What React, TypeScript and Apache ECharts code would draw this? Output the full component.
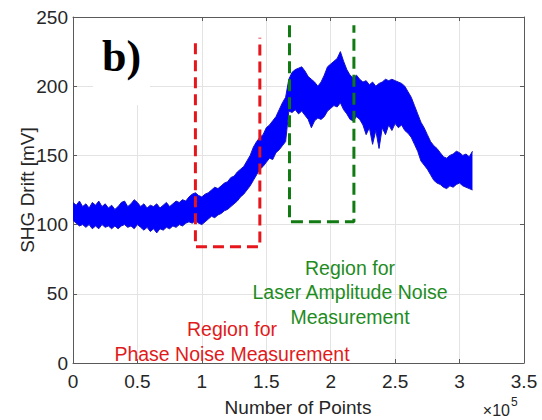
import React, { useEffect, useRef } from 'react';
import * as echarts from 'echarts';

// sampling step along x (units of 1e5 points)
const STEP = 0.025;
const X_MAX = 3.5;
// upper and lower envelope of the SHG drift band [mV]
const upper = [
  116, 114, 117, 113, 115, 112, 116, 114, 117, 113,
  115, 112, 114, 111, 113, 116, 117, 113, 115, 118,
  116, 113, 115, 112, 114, 113, 115, 112, 114, 116,
  113, 115, 117, 116, 118, 117, 120, 122, 123, 121,
  120, 122, 123, 125, 127, 126, 128, 130, 131, 134,
  135, 138, 140, 142, 146, 150, 156, 160, 163, 165,
  170, 172, 175, 178, 183, 188, 192, 205, 210, 212,
  213, 214, 211, 207, 205, 203, 200, 203, 208, 214,
  216, 218, 220, 225, 218, 212, 208, 206, 208, 205,
  203, 204, 201, 203, 200, 202, 203, 205, 204, 205,
  204, 203, 202, 200, 196, 192, 186, 180, 174, 170,
  165, 160, 157, 155, 152, 149, 148, 150, 151, 153,
  152, 150, 151, 149, 153,
];
const lower = [
  103, 101, 99, 100, 98, 100, 97, 99, 97, 100,
  98, 99, 97, 99, 97, 99, 100, 98, 99, 97,
  100, 98, 96, 98, 95, 97, 94, 97, 96, 98,
  97, 99, 98, 100, 99, 101, 102, 101, 103, 101,
  100, 102, 104, 106, 105, 107, 108, 110, 111, 113,
  115, 117, 120, 122, 125, 128, 132, 136, 140, 142,
  145, 148, 147, 152, 154, 157, 160, 182, 181, 183,
  180, 182, 179, 176, 170, 175, 177, 176, 178, 182,
  184, 186, 185, 188, 183, 180, 176, 175, 178, 176,
  172, 165, 170, 158, 168, 155, 170, 165, 172, 168,
  173, 170, 172, 168, 166, 163, 158, 153, 146, 143,
  140, 136, 132, 130, 129, 127, 126, 128, 127, 129,
  130, 128, 127, 126, 125,
];

// dashed measurement-region outlines
const phaseBoxX = [0.95, 0.95, 1.45, 1.45];
const phaseBoxY = [231, 84, 84, 235];
const ampBoxX = [1.68, 1.68, 2.18, 2.18];
const ampBoxY = [244, 102, 102, 244];

const greenLabel = ['Region for', 'Laser Amplitude Noise', 'Measurement'];
const redLabel = ['Region for', 'Phase Noise Measurement'];
const panelLabel = 'b)';
const xTitle = 'Number of Points';
const yTitle = 'SHG Drift [mV]';

const FONT = "'Liberation Sans', Arial, Helvetica, sans-serif";
const AXIS = '#5a5a5a';
const TXT = '#262626';
const GRID = '#e3e3e3';
const BLUE = '#0000ff';

export default function App() {
  const ref = useRef<HTMLDivElement>(null);
  useEffect(() => {
    if (!ref.current) return;
    const chart = echarts.init(ref.current, null, { renderer: 'svg' });
    // hidden category axis spanning 0..X_MAX at STEP so the band can be stacked
    const nCat = Math.round(X_MAX / STEP) + 1;
    const cats = Array.from({ length: nCat }, (_, i) => String(i));
    const bandDiff = upper.map((v, i) => v - lower[i]);
    const phaseData = phaseBoxX.map((x, i) => [x, phaseBoxY[i]]);
    const ampData = ampBoxX.map((x, i) => [x, ampBoxY[i]]);

    const lineCommon = { show: true, onZero: false, lineStyle: { color: AXIS, width: 1 } };
    const tickCommon = { show: true, inside: true, length: 4, lineStyle: { color: AXIS } };

    chart.setOption({
      animation: false,
      backgroundColor: '#fff',
      grid: { left: 73, right: 18, top: 17, bottom: 57, containLabel: false },
      xAxis: [
        {
          type: 'value', min: 0, max: X_MAX, interval: 0.5, position: 'bottom',
          axisLine: lineCommon, axisTick: tickCommon,
          axisLabel: { color: TXT, fontSize: 19, fontFamily: FONT, margin: 9 },
          splitLine: { show: true, lineStyle: { color: GRID, width: 1 } },
        },
        {
          type: 'value', min: 0, max: X_MAX, interval: 0.5, position: 'top',
          axisLine: lineCommon, axisTick: tickCommon,
          axisLabel: { show: false }, splitLine: { show: false },
        },
        {
          type: 'category', data: cats, boundaryGap: false, show: false, position: 'bottom',
        },
      ],
      yAxis: [
        {
          type: 'value', min: 0, max: 250, interval: 50, position: 'left',
          axisLine: lineCommon, axisTick: tickCommon,
          axisLabel: { color: TXT, fontSize: 19, fontFamily: FONT, margin: 5 },
          splitLine: { show: true, lineStyle: { color: GRID, width: 1 } },
        },
        {
          type: 'value', min: 0, max: 250, interval: 50, position: 'right',
          axisLine: lineCommon, axisTick: tickCommon,
          axisLabel: { show: false }, splitLine: { show: false },
        },
      ],
      series: [
        {
          type: 'line', data: lower, xAxisIndex: 2, yAxisIndex: 0, stack: 'band', symbol: 'none',
          lineStyle: { color: '#1414c8', width: 1 }, z: 2,
        },
        {
          type: 'line', data: bandDiff, xAxisIndex: 2, yAxisIndex: 0, stack: 'band', symbol: 'none',
          lineStyle: { color: '#1414c8', width: 1 },
          areaStyle: { color: BLUE, opacity: 1 }, z: 2,
        },
        {
          type: 'line', data: phaseData, xAxisIndex: 0, yAxisIndex: 0, symbol: 'none',
          lineStyle: { color: '#e5161c', width: 3, type: [11, 6] }, z: 4,
        },
        {
          type: 'line', data: ampData, xAxisIndex: 0, yAxisIndex: 0, symbol: 'none',
          lineStyle: { color: '#127a12', width: 3, type: [12, 6] }, z: 4,
        },
      ],
      graphic: [
        { type: 'rect', shape: { x: 93, y: 18, width: 57, height: 87 }, style: { fill: '#fff' }, z: 3 },
        {
          type: 'text', x: 102, y: 56, z: 5,
          style: { text: panelLabel, font: `bold 44px 'Liberation Serif', 'Times New Roman', serif`, fill: '#000', textAlign: 'left', textVerticalAlign: 'middle' },
        },
        {
          type: 'text', x: 350, y: 292, z: 5,
          style: { text: greenLabel.join('\n'), fontSize: 19.5, fontFamily: FONT, fill: '#1f8c1f', textAlign: 'center', textVerticalAlign: 'middle', lineHeight: 24.5 },
        },
        {
          type: 'text', x: 232, y: 341, z: 5,
          style: { text: redLabel.join('\n'), fontSize: 19.5, fontFamily: FONT, fill: '#e01b1b', textAlign: 'center', textVerticalAlign: 'middle', lineHeight: 25 },
        },
        {
          type: 'text', x: 298, y: 407, z: 5,
          style: { text: xTitle, fontSize: 19, fontFamily: FONT, fill: TXT, textAlign: 'center', textVerticalAlign: 'middle' },
        },
        {
          type: 'text', x: 27, y: 190, rotation: Math.PI / 2, z: 5,
          style: { text: yTitle, fontSize: 19, fontFamily: FONT, fill: TXT, textAlign: 'center', textVerticalAlign: 'middle' },
        },
        {
          type: 'text', x: 510, y: 410, z: 5,
          style: { text: '×10', fontSize: 16, fontFamily: FONT, fill: TXT, textAlign: 'right', textVerticalAlign: 'middle' },
        },
        {
          type: 'text', x: 511, y: 402, z: 5,
          style: { text: '5', fontSize: 12, fontFamily: FONT, fill: TXT, textAlign: 'left', textVerticalAlign: 'middle' },
        },
      ],
    });
    return () => chart.dispose();
  }, []);
  return (
    <div
      ref={ref}
      style={{ position: 'fixed', left: 0, top: 0, width: 542, height: 420, background: '#fff' }}
    />
  );
}
